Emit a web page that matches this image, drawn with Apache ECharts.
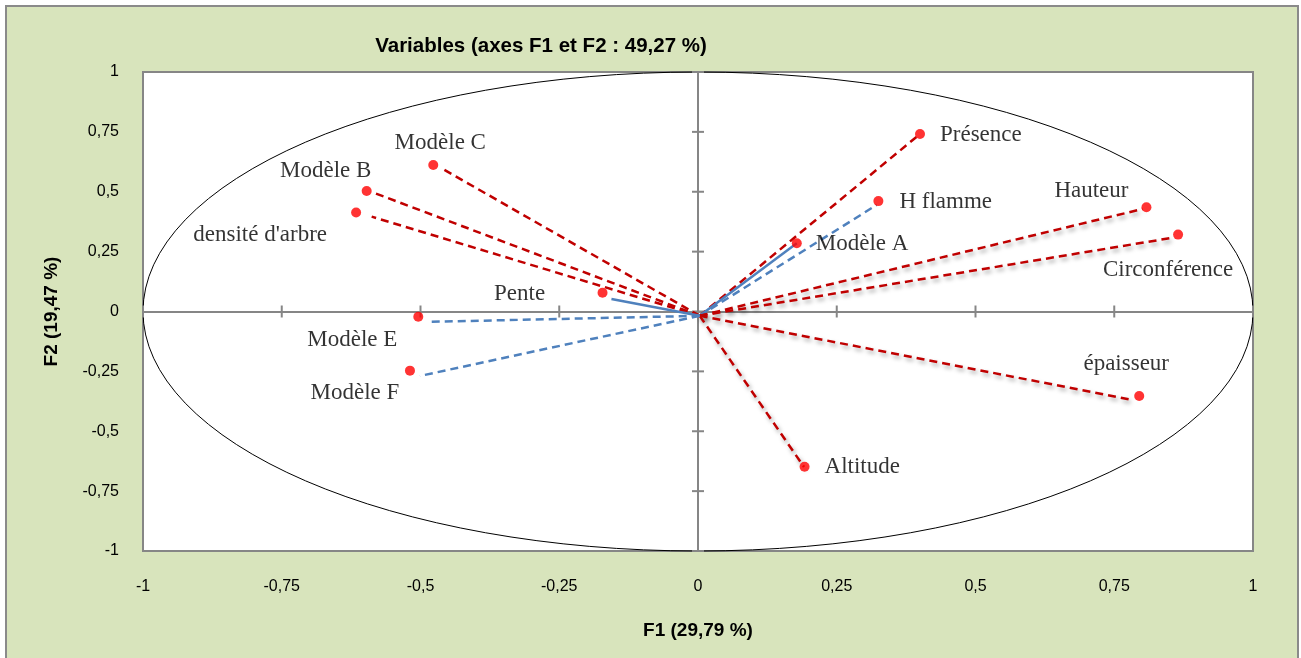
<!DOCTYPE html>
<html>
<head>
<meta charset="utf-8">
<script src="https://cdn.jsdelivr.net/npm/echarts@6/dist/echarts.min.js"></script>
<style>
html,body{margin:0;padding:0;background:#fff;}
#chart{width:1301px;height:658px;}
</style>
</head>
<body>
<div id="chart"></div>
<script>
// ---- data ----
var variables = ['Présence','H flamme','Modèle A','Hauteur','Circonférence','épaisseur','Altitude','Modèle C','Modèle B',"densité d'arbre",'Pente','Modèle E','Modèle F'];
var pointF1 = [0.400, 0.325, 0.178, 0.808, 0.865, 0.795, 0.192, -0.477, -0.597, -0.616, -0.172, -0.504, -0.519];
var pointF2 = [0.741, 0.461, 0.285, 0.435, 0.321, -0.353, -0.648, 0.612, 0.503, 0.413, 0.078, -0.022, -0.247];
var lineEndF1 = [0.400, 0.322, 0.178, 0.801, 0.850, 0.784, 0.191, -0.462, -0.582, -0.588, -0.156, -0.480, -0.501];
var lineEndF2 = [0.741, 0.445, 0.285, 0.428, 0.306, -0.370, -0.649, 0.598, 0.494, 0.396, 0.052, -0.043, -0.269];
var lineStart = [0.003, -0.018];
var circleCenter = [0, 0];
var circleRadius = 1;
var axisTicks = [-1, -0.75, -0.5, -0.25, 0, 0.25, 0.5, 0.75, 1];
var titleText = 'Variables (axes F1 et F2 : 49,27 %)';
var xName = 'F1 (29,79 %)';
var yName = 'F2 (19,47 %)';

// ---- styles / layout ----
var lineKind = ['red','blueDash','blueSolid','redShadow','redShadow','redShadow','redShadow','red','red','red','blueSolid','blueDash','blueDash'];
var labelLayout = [
  {align:'left', offset:[20,1]},
  {align:'left', offset:[21,1]},
  {align:'left', offset:[19,1]},
  {align:'center', offset:[-55,-16]},
  {align:'center', offset:[-10,35]},
  {align:'center', offset:[-13,-32]},
  {align:'left', offset:[20,0]},
  {align:'center', offset:[7,-22]},
  {align:'center', offset:[-41,-20]},
  {align:'center', offset:[-96,22]},
  {align:'center', offset:[-83,1]},
  {align:'center', offset:[-66,23]},
  {align:'center', offset:[-55,22]}
];
var RED = '#c00000', BLUE = '#4f81bd', AXIS = '#868686', TICK_HALF = 6;
function lineStyleFor(kind){
  var s = {width:2.5};
  if (kind.indexOf('red') === 0){ s.color = RED; s.type = [8,5]; }
  else if (kind === 'blueDash'){ s.color = BLUE; s.type = [8,5]; }
  else { s.color = BLUE; s.type = 'solid'; }
  if (kind === 'redShadow'){ s.shadowColor = 'rgba(0,0,0,0.35)'; s.shadowBlur = 4; s.shadowOffsetX = 2; s.shadowOffsetY = 3; }
  return s;
}
function fmt(v){ return String(v).replace('.', ','); }

var series = [];
// correlation circle
series.push({
  type:'custom', xAxisIndex:0, yAxisIndex:0, z:1, silent:true,
  data:[[circleCenter[0], circleCenter[1], circleRadius]],
  renderItem:function(params, api){
    var cx = api.value(0), cy = api.value(1), r = api.value(2);
    var c = api.coord([cx, cy]);
    var px = api.coord([cx + r, cy]);
    var py = api.coord([cx, cy + r]);
    var rx = px[0] - c[0], ry = c[1] - py[1];
    var d = 'M ' + (c[0]-rx) + ' ' + c[1] +
            ' A ' + rx + ' ' + ry + ' 0 1 0 ' + (c[0]+rx) + ' ' + c[1] +
            ' A ' + rx + ' ' + ry + ' 0 1 0 ' + (c[0]-rx) + ' ' + c[1] + ' Z';
    return {type:'path', shape:{pathData:d}, style:{fill:null, stroke:'#000', lineWidth:1}};
  }
});
// cross tick marks on the zero axes
series.push({
  type:'custom', xAxisIndex:0, yAxisIndex:0, z:2, silent:true,
  data:axisTicks.map(function(t){ return [t, 0]; }),
  renderItem:function(params, api){
    var p = api.coord([api.value(0), api.value(1)]);
    return {type:'line', shape:{x1:p[0], y1:p[1]-TICK_HALF, x2:p[0], y2:p[1]+TICK_HALF}, style:{stroke:AXIS, lineWidth:2}};
  }
});
series.push({
  type:'custom', xAxisIndex:0, yAxisIndex:0, z:2, silent:true,
  data:axisTicks.map(function(t){ return [0, t]; }),
  renderItem:function(params, api){
    var p = api.coord([api.value(0), api.value(1)]);
    return {type:'line', shape:{x1:p[0]-TICK_HALF, y1:p[1], x2:p[0]+TICK_HALF, y2:p[1]}, style:{stroke:AXIS, lineWidth:2}};
  }
});
// vectors
for (var i = 0; i < variables.length; i++){
  series.push({
    type:'line', xAxisIndex:0, yAxisIndex:0, z:3, silent:true,
    showSymbol:false, symbol:'none', animation:false,
    data:[[lineStart[0], lineStart[1]], [lineEndF1[i], lineEndF2[i]]],
    lineStyle: lineStyleFor(lineKind[i])
  });
}
// points
var pts = [];
for (var j = 0; j < variables.length; j++){
  pts.push({
    value:[pointF1[j], pointF2[j]], name:variables[j],
    label:{show:true, position:'inside', align:labelLayout[j].align, verticalAlign:'middle', offset:labelLayout[j].offset}
  });
}
series.push({
  type:'scatter', xAxisIndex:0, yAxisIndex:0, z:5, symbolSize:10,
  itemStyle:{color:'#ff0000'},
  label:{show:true, formatter:'{b}', color:'#000', fontFamily:'Liberation Serif', fontSize:23},
  data:pts
});

var axisFont = {color:'#000', fontFamily:'Liberation Sans', fontSize:16};
function zeroAxis(pos){
  return {
    type:'value', position:pos, min:axisTicks[0], max:axisTicks[axisTicks.length-1], interval:axisTicks[1]-axisTicks[0],
    axisLine:{show:true, onZero:true, onZeroAxisIndex:0, lineStyle:{color:AXIS, width:2}},
    axisTick:{show:false}, axisLabel:{show:false}, splitLine:{show:false}
  };
}
var option = {
  animation:false,
  backgroundColor:'#ffffff',
  graphic:[{
    type:'rect', z:-10, silent:true,
    shape:{x:6, y:6, width:1292, height:660},
    style:{fill:'#d8e4bc', stroke:'#8a8a8a', lineWidth:2}
  }],
  title:{text:titleText, left:536, top:31, textAlign:'center',
    textStyle:{fontFamily:'Liberation Sans', fontWeight:'bold', fontSize:20.5, color:'#000'}},
  grid:{left:143, right:48, top:72, bottom:107, show:true, backgroundColor:'#fff', borderColor:AXIS, borderWidth:2},
  xAxis:[
    {type:'value', position:'bottom', min:axisTicks[0], max:axisTicks[axisTicks.length-1], interval:axisTicks[1]-axisTicks[0],
     name:xName, nameLocation:'middle', nameGap:70,
     nameTextStyle:{fontFamily:'Liberation Sans', fontWeight:'bold', fontSize:19, color:'#000'},
     axisLine:{show:false, onZero:false}, axisTick:{show:false}, splitLine:{show:false},
     axisLabel:Object.assign({margin:28, formatter:fmt}, axisFont)},
    zeroAxis('bottom')
  ],
  yAxis:[
    {type:'value', position:'left', min:axisTicks[0], max:axisTicks[axisTicks.length-1], interval:axisTicks[1]-axisTicks[0],
     name:yName, nameLocation:'middle', nameGap:82, nameRotate:90,
     nameTextStyle:{fontFamily:'Liberation Sans', fontWeight:'bold', fontSize:19, color:'#000'},
     axisLine:{show:false, onZero:false}, axisTick:{show:false}, splitLine:{show:false},
     axisLabel:Object.assign({margin:24, formatter:fmt}, axisFont)},
    zeroAxis('left')
  ],
  series:series
};
var chart = echarts.init(document.getElementById('chart'));
chart.setOption(option);
</script>
</body>
</html>
